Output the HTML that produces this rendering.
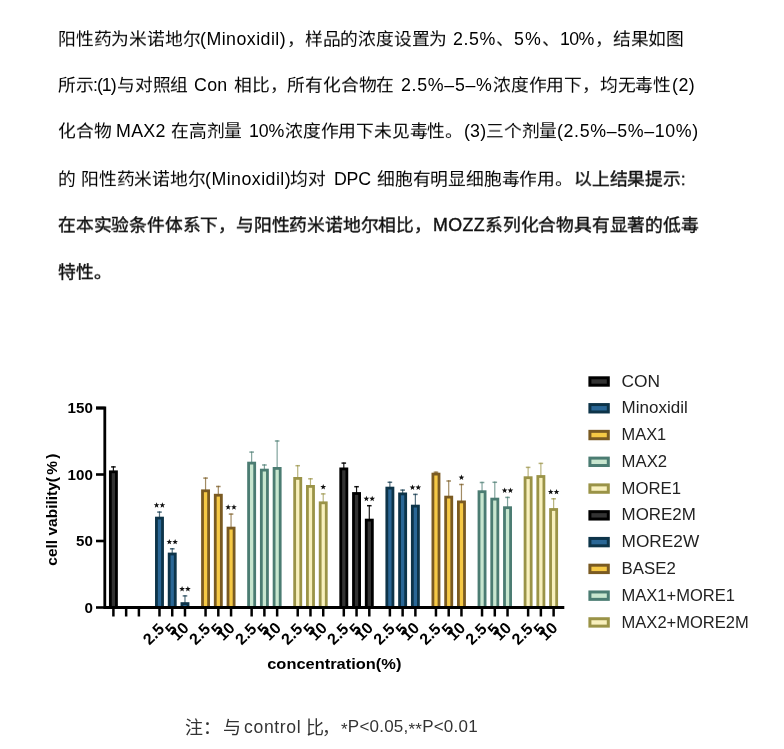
<!DOCTYPE html>
<html lang="zh-CN"><head><meta charset="utf-8"><style>
html,body{margin:0;padding:0;background:#fff;}
body{width:784px;height:749px;position:relative;overflow:hidden;font-family:"Liberation Sans",sans-serif;}
.ln{position:absolute;font-size:17.8px;line-height:20px;will-change:transform;color:#000;white-space:nowrap;}
.ln b,.bd{font-weight:normal;-webkit-text-stroke:0.4px #111;color:#111;}
svg{position:absolute;left:0;top:0;}
svg text{font-family:"Liberation Sans",sans-serif;}
.st{font-size:13px;font-weight:bold;text-anchor:middle;fill:#111;}
.xl{font-size:16px;font-weight:bold;text-anchor:end;fill:#000;}
.yl{font-size:14px;font-weight:bold;text-anchor:end;fill:#000;}
.ax{font-size:15.5px;font-weight:bold;fill:#000;}
.lg{font-size:15.6px;fill:#222;}
.cap{position:absolute;top:717.4px;font-size:17px;line-height:20px;color:#333;white-space:nowrap;will-change:transform;}
.sy{transform:scaleY(0.94);transform-origin:0 1px;letter-spacing:-0.2px;}
.as{font-size:17px;position:relative;top:3.2px;}
.cj{font-size:18px;top:717.9px;}
</style></head><body>
<div class="ln sy" style="left:57.8px;top:30.0px">阳性药为米诺地尔</div>
<div class="ln" style="left:200.2px;top:29.2px;letter-spacing:0.47px">(Minoxidil)</div>
<div class="ln sy" style="left:286.5px;top:30.0px">，样品的浓度设置为</div>
<div class="ln" style="left:453.3px;top:29.2px;letter-spacing:0.6px">2.5%</div>
<div class="ln sy" style="left:495.5px;top:30.0px">、</div>
<div class="ln" style="left:514.2px;top:29.2px;letter-spacing:1.0px">5%</div>
<div class="ln sy" style="left:542.2px;top:30.0px">、</div>
<div class="ln" style="left:559.6px;top:29.2px;letter-spacing:-0.65px">10%</div>
<div class="ln sy" style="left:594.9px;top:30.0px">，结果如图</div>
<div class="ln sy" style="left:57.8px;top:76.0px">所示</div>
<div class="ln" style="left:93.3px;top:75.2px;letter-spacing:-1.03px">:(1)</div>
<div class="ln sy" style="left:116.8px;top:76.0px">与对照组</div>
<div class="ln" style="left:194.1px;top:75.2px;letter-spacing:0.3px">Con</div>
<div class="ln sy" style="left:233.9px;top:76.0px">相比，所有化合物在</div>
<div class="ln" style="left:400.9px;top:75.2px;letter-spacing:0.7px">2.5%–5–%</div>
<div class="ln sy" style="left:493.1px;top:76.0px">浓度作用下，均无毒性</div>
<div class="ln" style="left:671.7px;top:75.2px;letter-spacing:0.5px">(2)</div>
<div class="ln sy" style="left:57.8px;top:122.2px">化合物</div>
<div class="ln" style="left:116.3px;top:121.4px;letter-spacing:0.33px">MAX2</div>
<div class="ln sy" style="left:171.4px;top:122.2px">在高剂量</div>
<div class="ln" style="left:249.2px;top:121.4px;letter-spacing:-0.15px">10%</div>
<div class="ln sy" style="left:284.9px;top:122.2px">浓度作用下未见毒性。</div>
<div class="ln" style="left:463.9px;top:121.4px;letter-spacing:0.2px">(3)</div>
<div class="ln sy" style="left:486.3px;top:122.2px">三个剂量</div>
<div class="ln" style="left:557.4px;top:121.4px;letter-spacing:0.65px">(2.5%–5%–10%)</div>
<div class="ln sy" style="left:57.8px;top:169.6px">的</div>
<div class="ln sy" style="left:81.2px;top:169.6px">阳性药米诺地尔</div>
<div class="ln" style="left:205.1px;top:168.8px;letter-spacing:0.47px">(Minoxidil)</div>
<div class="ln sy" style="left:289.8px;top:169.6px">均对</div>
<div class="ln" style="left:333.5px;top:168.8px;letter-spacing:-0.25px">DPC</div>
<div class="ln sy" style="left:377.2px;top:169.6px">细胞有明显细胞毒作用。</div>
<div class="ln sy" style="left:574.3px;top:169.6px"><b>以上结果提示:</b></div>
<div class="ln bd sy" style="left:57.8px;top:215.6px">在本实验条件体系下，与阳性药米诺地尔相比，</div>
<div class="ln bd" style="left:433.3px;top:214.8px;letter-spacing:0.4px">MOZZ</div>
<div class="ln bd sy" style="left:485.1px;top:215.6px">系列化合物具有显著的低毒</div>
<div class="ln bd sy" style="left:57.8px;top:263.0px">特性。</div>

<svg width="784" height="749" viewBox="0 0 784 749">
<line x1="113.40" y1="471.40" x2="113.40" y2="466.20" stroke="#000000" stroke-width="1.2" opacity="0.9"/>
<line x1="111.10" y1="466.90" x2="115.70" y2="466.90" stroke="#000000" stroke-width="1.5" opacity="0.9"/>
<line x1="159.48" y1="517.70" x2="159.48" y2="511.40" stroke="#0d3449" stroke-width="1.2" opacity="0.7"/>
<line x1="157.18" y1="512.10" x2="161.78" y2="512.10" stroke="#0d3449" stroke-width="1.5" opacity="0.7"/>
<line x1="172.23" y1="553.60" x2="172.23" y2="548.10" stroke="#0d3449" stroke-width="1.2" opacity="0.7"/>
<line x1="169.93" y1="548.80" x2="174.53" y2="548.80" stroke="#0d3449" stroke-width="1.5" opacity="0.7"/>
<line x1="184.98" y1="603.20" x2="184.98" y2="595.20" stroke="#0d3449" stroke-width="1.2" opacity="0.7"/>
<line x1="182.68" y1="595.90" x2="187.28" y2="595.90" stroke="#0d3449" stroke-width="1.5" opacity="0.7"/>
<line x1="205.56" y1="490.40" x2="205.56" y2="477.40" stroke="#7a5a22" stroke-width="1.2" opacity="0.7"/>
<line x1="203.26" y1="478.10" x2="207.86" y2="478.10" stroke="#7a5a22" stroke-width="1.5" opacity="0.7"/>
<line x1="218.31" y1="494.80" x2="218.31" y2="485.80" stroke="#7a5a22" stroke-width="1.2" opacity="0.7"/>
<line x1="216.01" y1="486.50" x2="220.61" y2="486.50" stroke="#7a5a22" stroke-width="1.5" opacity="0.7"/>
<line x1="231.06" y1="527.70" x2="231.06" y2="513.40" stroke="#7a5a22" stroke-width="1.2" opacity="0.7"/>
<line x1="228.76" y1="514.10" x2="233.36" y2="514.10" stroke="#7a5a22" stroke-width="1.5" opacity="0.7"/>
<line x1="251.64" y1="462.70" x2="251.64" y2="451.40" stroke="#4b7c72" stroke-width="1.2" opacity="0.7"/>
<line x1="249.34" y1="452.10" x2="253.94" y2="452.10" stroke="#4b7c72" stroke-width="1.5" opacity="0.7"/>
<line x1="264.39" y1="469.70" x2="264.39" y2="464.30" stroke="#4b7c72" stroke-width="1.2" opacity="0.7"/>
<line x1="262.09" y1="465.00" x2="266.69" y2="465.00" stroke="#4b7c72" stroke-width="1.5" opacity="0.7"/>
<line x1="277.14" y1="468.00" x2="277.14" y2="440.30" stroke="#4b7c72" stroke-width="1.2" opacity="0.7"/>
<line x1="274.84" y1="441.00" x2="279.44" y2="441.00" stroke="#4b7c72" stroke-width="1.5" opacity="0.7"/>
<line x1="297.72" y1="478.00" x2="297.72" y2="465.00" stroke="#9a9347" stroke-width="1.2" opacity="0.7"/>
<line x1="295.42" y1="465.70" x2="300.02" y2="465.70" stroke="#9a9347" stroke-width="1.5" opacity="0.7"/>
<line x1="310.47" y1="486.00" x2="310.47" y2="478.10" stroke="#9a9347" stroke-width="1.2" opacity="0.7"/>
<line x1="308.17" y1="478.80" x2="312.77" y2="478.80" stroke="#9a9347" stroke-width="1.5" opacity="0.7"/>
<line x1="323.22" y1="502.40" x2="323.22" y2="493.20" stroke="#9a9347" stroke-width="1.2" opacity="0.7"/>
<line x1="320.92" y1="493.90" x2="325.52" y2="493.90" stroke="#9a9347" stroke-width="1.5" opacity="0.7"/>
<line x1="343.80" y1="468.50" x2="343.80" y2="462.40" stroke="#000000" stroke-width="1.2" opacity="0.9"/>
<line x1="341.50" y1="463.10" x2="346.10" y2="463.10" stroke="#000000" stroke-width="1.5" opacity="0.9"/>
<line x1="356.55" y1="493.10" x2="356.55" y2="486.00" stroke="#000000" stroke-width="1.2" opacity="0.9"/>
<line x1="354.25" y1="486.70" x2="358.85" y2="486.70" stroke="#000000" stroke-width="1.5" opacity="0.9"/>
<line x1="369.30" y1="519.70" x2="369.30" y2="505.00" stroke="#000000" stroke-width="1.2" opacity="0.9"/>
<line x1="367.00" y1="505.70" x2="371.60" y2="505.70" stroke="#000000" stroke-width="1.5" opacity="0.9"/>
<line x1="389.88" y1="487.70" x2="389.88" y2="481.60" stroke="#0d3449" stroke-width="1.2" opacity="0.7"/>
<line x1="387.58" y1="482.30" x2="392.18" y2="482.30" stroke="#0d3449" stroke-width="1.5" opacity="0.7"/>
<line x1="402.63" y1="493.50" x2="402.63" y2="489.40" stroke="#0d3449" stroke-width="1.2" opacity="0.7"/>
<line x1="400.33" y1="490.10" x2="404.93" y2="490.10" stroke="#0d3449" stroke-width="1.5" opacity="0.7"/>
<line x1="415.38" y1="505.70" x2="415.38" y2="493.70" stroke="#0d3449" stroke-width="1.2" opacity="0.7"/>
<line x1="413.08" y1="494.40" x2="417.68" y2="494.40" stroke="#0d3449" stroke-width="1.5" opacity="0.7"/>
<line x1="435.96" y1="473.70" x2="435.96" y2="471.50" stroke="#7a5a22" stroke-width="1.2" opacity="0.7"/>
<line x1="433.66" y1="472.20" x2="438.26" y2="472.20" stroke="#7a5a22" stroke-width="1.5" opacity="0.7"/>
<line x1="448.71" y1="496.70" x2="448.71" y2="480.30" stroke="#7a5a22" stroke-width="1.2" opacity="0.7"/>
<line x1="446.41" y1="481.00" x2="451.01" y2="481.00" stroke="#7a5a22" stroke-width="1.5" opacity="0.7"/>
<line x1="461.46" y1="501.50" x2="461.46" y2="483.80" stroke="#7a5a22" stroke-width="1.2" opacity="0.7"/>
<line x1="459.16" y1="484.50" x2="463.76" y2="484.50" stroke="#7a5a22" stroke-width="1.5" opacity="0.7"/>
<line x1="482.04" y1="491.30" x2="482.04" y2="481.80" stroke="#4b7c72" stroke-width="1.2" opacity="0.7"/>
<line x1="479.74" y1="482.50" x2="484.34" y2="482.50" stroke="#4b7c72" stroke-width="1.5" opacity="0.7"/>
<line x1="494.79" y1="498.70" x2="494.79" y2="481.60" stroke="#4b7c72" stroke-width="1.2" opacity="0.7"/>
<line x1="492.49" y1="482.30" x2="497.09" y2="482.30" stroke="#4b7c72" stroke-width="1.5" opacity="0.7"/>
<line x1="507.54" y1="507.30" x2="507.54" y2="496.70" stroke="#4b7c72" stroke-width="1.2" opacity="0.7"/>
<line x1="505.24" y1="497.40" x2="509.84" y2="497.40" stroke="#4b7c72" stroke-width="1.5" opacity="0.7"/>
<line x1="528.12" y1="477.30" x2="528.12" y2="466.70" stroke="#9a9347" stroke-width="1.2" opacity="0.7"/>
<line x1="525.82" y1="467.40" x2="530.42" y2="467.40" stroke="#9a9347" stroke-width="1.5" opacity="0.7"/>
<line x1="540.87" y1="476.10" x2="540.87" y2="462.70" stroke="#9a9347" stroke-width="1.2" opacity="0.7"/>
<line x1="538.57" y1="463.40" x2="543.17" y2="463.40" stroke="#9a9347" stroke-width="1.5" opacity="0.7"/>
<line x1="553.62" y1="509.10" x2="553.62" y2="498.10" stroke="#9a9347" stroke-width="1.2" opacity="0.7"/>
<line x1="551.32" y1="498.80" x2="555.92" y2="498.80" stroke="#9a9347" stroke-width="1.5" opacity="0.7"/>
<rect x="110.35" y="471.80" width="6.10" height="135.70" fill="#333333" stroke="#000000" stroke-width="2.8"/>
<rect x="156.43" y="518.10" width="6.10" height="89.40" fill="#2a6796" stroke="#0d3449" stroke-width="2.8"/>
<rect x="169.18" y="554.00" width="6.10" height="53.50" fill="#2a6796" stroke="#0d3449" stroke-width="2.8"/>
<rect x="181.93" y="603.60" width="6.10" height="3.90" fill="#2a6796" stroke="#0d3449" stroke-width="2.8"/>
<rect x="202.51" y="490.80" width="6.10" height="116.70" fill="#f6c945" stroke="#7a5a22" stroke-width="2.8"/>
<rect x="215.26" y="495.20" width="6.10" height="112.30" fill="#f6c945" stroke="#7a5a22" stroke-width="2.8"/>
<rect x="228.01" y="528.10" width="6.10" height="79.40" fill="#f6c945" stroke="#7a5a22" stroke-width="2.8"/>
<rect x="248.59" y="463.10" width="6.10" height="144.40" fill="#c8e6cf" stroke="#4b7c72" stroke-width="2.8"/>
<rect x="261.34" y="470.10" width="6.10" height="137.40" fill="#c8e6cf" stroke="#4b7c72" stroke-width="2.8"/>
<rect x="274.09" y="468.40" width="6.10" height="139.10" fill="#c8e6cf" stroke="#4b7c72" stroke-width="2.8"/>
<rect x="294.67" y="478.40" width="6.10" height="129.10" fill="#f8f0bd" stroke="#9a9347" stroke-width="2.8"/>
<rect x="307.42" y="486.40" width="6.10" height="121.10" fill="#f8f0bd" stroke="#9a9347" stroke-width="2.8"/>
<rect x="320.17" y="502.80" width="6.10" height="104.70" fill="#f8f0bd" stroke="#9a9347" stroke-width="2.8"/>
<rect x="340.75" y="468.90" width="6.10" height="138.60" fill="#333333" stroke="#000000" stroke-width="2.8"/>
<rect x="353.50" y="493.50" width="6.10" height="114.00" fill="#333333" stroke="#000000" stroke-width="2.8"/>
<rect x="366.25" y="520.10" width="6.10" height="87.40" fill="#333333" stroke="#000000" stroke-width="2.8"/>
<rect x="386.83" y="488.10" width="6.10" height="119.40" fill="#2a6796" stroke="#0d3449" stroke-width="2.8"/>
<rect x="399.58" y="493.90" width="6.10" height="113.60" fill="#2a6796" stroke="#0d3449" stroke-width="2.8"/>
<rect x="412.33" y="506.10" width="6.10" height="101.40" fill="#2a6796" stroke="#0d3449" stroke-width="2.8"/>
<rect x="432.91" y="474.10" width="6.10" height="133.40" fill="#f6c945" stroke="#7a5a22" stroke-width="2.8"/>
<rect x="445.66" y="497.10" width="6.10" height="110.40" fill="#f6c945" stroke="#7a5a22" stroke-width="2.8"/>
<rect x="458.41" y="501.90" width="6.10" height="105.60" fill="#f6c945" stroke="#7a5a22" stroke-width="2.8"/>
<rect x="478.99" y="491.70" width="6.10" height="115.80" fill="#c8e6cf" stroke="#4b7c72" stroke-width="2.8"/>
<rect x="491.74" y="499.10" width="6.10" height="108.40" fill="#c8e6cf" stroke="#4b7c72" stroke-width="2.8"/>
<rect x="504.49" y="507.70" width="6.10" height="99.80" fill="#c8e6cf" stroke="#4b7c72" stroke-width="2.8"/>
<rect x="525.07" y="477.70" width="6.10" height="129.80" fill="#f8f0bd" stroke="#9a9347" stroke-width="2.8"/>
<rect x="537.82" y="476.50" width="6.10" height="131.00" fill="#f8f0bd" stroke="#9a9347" stroke-width="2.8"/>
<rect x="550.57" y="509.50" width="6.10" height="98.00" fill="#f8f0bd" stroke="#9a9347" stroke-width="2.8"/>
<line x1="113.40" y1="607.50" x2="113.40" y2="616.5" stroke="#000" stroke-width="2.5"/>
<line x1="126.15" y1="607.50" x2="126.15" y2="616.5" stroke="#000" stroke-width="2.5"/>
<line x1="138.90" y1="607.50" x2="138.90" y2="616.5" stroke="#000" stroke-width="2.5"/>
<line x1="159.48" y1="607.50" x2="159.48" y2="616.5" stroke="#000" stroke-width="2.5"/>
<line x1="172.23" y1="607.50" x2="172.23" y2="616.5" stroke="#000" stroke-width="2.5"/>
<line x1="184.98" y1="607.50" x2="184.98" y2="616.5" stroke="#000" stroke-width="2.5"/>
<line x1="205.56" y1="607.50" x2="205.56" y2="616.5" stroke="#000" stroke-width="2.5"/>
<line x1="218.31" y1="607.50" x2="218.31" y2="616.5" stroke="#000" stroke-width="2.5"/>
<line x1="231.06" y1="607.50" x2="231.06" y2="616.5" stroke="#000" stroke-width="2.5"/>
<line x1="251.64" y1="607.50" x2="251.64" y2="616.5" stroke="#000" stroke-width="2.5"/>
<line x1="264.39" y1="607.50" x2="264.39" y2="616.5" stroke="#000" stroke-width="2.5"/>
<line x1="277.14" y1="607.50" x2="277.14" y2="616.5" stroke="#000" stroke-width="2.5"/>
<line x1="297.72" y1="607.50" x2="297.72" y2="616.5" stroke="#000" stroke-width="2.5"/>
<line x1="310.47" y1="607.50" x2="310.47" y2="616.5" stroke="#000" stroke-width="2.5"/>
<line x1="323.22" y1="607.50" x2="323.22" y2="616.5" stroke="#000" stroke-width="2.5"/>
<line x1="343.80" y1="607.50" x2="343.80" y2="616.5" stroke="#000" stroke-width="2.5"/>
<line x1="356.55" y1="607.50" x2="356.55" y2="616.5" stroke="#000" stroke-width="2.5"/>
<line x1="369.30" y1="607.50" x2="369.30" y2="616.5" stroke="#000" stroke-width="2.5"/>
<line x1="389.88" y1="607.50" x2="389.88" y2="616.5" stroke="#000" stroke-width="2.5"/>
<line x1="402.63" y1="607.50" x2="402.63" y2="616.5" stroke="#000" stroke-width="2.5"/>
<line x1="415.38" y1="607.50" x2="415.38" y2="616.5" stroke="#000" stroke-width="2.5"/>
<line x1="435.96" y1="607.50" x2="435.96" y2="616.5" stroke="#000" stroke-width="2.5"/>
<line x1="448.71" y1="607.50" x2="448.71" y2="616.5" stroke="#000" stroke-width="2.5"/>
<line x1="461.46" y1="607.50" x2="461.46" y2="616.5" stroke="#000" stroke-width="2.5"/>
<line x1="482.04" y1="607.50" x2="482.04" y2="616.5" stroke="#000" stroke-width="2.5"/>
<line x1="494.79" y1="607.50" x2="494.79" y2="616.5" stroke="#000" stroke-width="2.5"/>
<line x1="507.54" y1="607.50" x2="507.54" y2="616.5" stroke="#000" stroke-width="2.5"/>
<line x1="528.12" y1="607.50" x2="528.12" y2="616.5" stroke="#000" stroke-width="2.5"/>
<line x1="540.87" y1="607.50" x2="540.87" y2="616.5" stroke="#000" stroke-width="2.5"/>
<line x1="553.62" y1="607.50" x2="553.62" y2="616.5" stroke="#000" stroke-width="2.5"/>
<polygon points="156.58,502.20 157.32,504.18 159.43,504.27 157.78,505.59 158.34,507.63 156.58,506.46 154.82,507.63 155.38,505.59 153.73,504.27 155.84,504.18" fill="#111"/>
<polygon points="162.38,502.20 163.12,504.18 165.23,504.27 163.58,505.59 164.14,507.63 162.38,506.46 160.62,507.63 161.18,505.59 159.53,504.27 161.64,504.18" fill="#111"/>
<polygon points="169.33,538.90 170.07,540.88 172.18,540.97 170.53,542.29 171.09,544.33 169.33,543.16 167.57,544.33 168.13,542.29 166.48,540.97 168.59,540.88" fill="#111"/>
<polygon points="175.13,538.90 175.87,540.88 177.98,540.97 176.33,542.29 176.89,544.33 175.13,543.16 173.37,544.33 173.93,542.29 172.28,540.97 174.39,540.88" fill="#111"/>
<polygon points="182.08,586.00 182.82,587.98 184.93,588.07 183.28,589.39 183.84,591.43 182.08,590.26 180.32,591.43 180.88,589.39 179.23,588.07 181.34,587.98" fill="#111"/>
<polygon points="187.88,586.00 188.62,587.98 190.73,588.07 189.08,589.39 189.64,591.43 187.88,590.26 186.12,591.43 186.68,589.39 185.03,588.07 187.14,587.98" fill="#111"/>
<polygon points="228.16,504.20 228.90,506.18 231.01,506.27 229.36,507.59 229.92,509.63 228.16,508.46 226.40,509.63 226.96,507.59 225.31,506.27 227.42,506.18" fill="#111"/>
<polygon points="233.96,504.20 234.70,506.18 236.81,506.27 235.16,507.59 235.72,509.63 233.96,508.46 232.20,509.63 232.76,507.59 231.11,506.27 233.22,506.18" fill="#111"/>
<polygon points="323.22,484.00 323.96,485.98 326.07,486.07 324.42,487.39 324.98,489.43 323.22,488.26 321.46,489.43 322.02,487.39 320.37,486.07 322.48,485.98" fill="#111"/>
<polygon points="366.40,495.80 367.14,497.78 369.25,497.87 367.60,499.19 368.16,501.23 366.40,500.06 364.64,501.23 365.20,499.19 363.55,497.87 365.66,497.78" fill="#111"/>
<polygon points="372.20,495.80 372.94,497.78 375.05,497.87 373.40,499.19 373.96,501.23 372.20,500.06 370.44,501.23 371.00,499.19 369.35,497.87 371.46,497.78" fill="#111"/>
<polygon points="412.48,484.50 413.22,486.48 415.33,486.57 413.68,487.89 414.24,489.93 412.48,488.76 410.72,489.93 411.28,487.89 409.63,486.57 411.74,486.48" fill="#111"/>
<polygon points="418.28,484.50 419.02,486.48 421.13,486.57 419.48,487.89 420.04,489.93 418.28,488.76 416.52,489.93 417.08,487.89 415.43,486.57 417.54,486.48" fill="#111"/>
<polygon points="461.46,474.60 462.20,476.58 464.31,476.67 462.66,477.99 463.22,480.03 461.46,478.86 459.70,480.03 460.26,477.99 458.61,476.67 460.72,476.58" fill="#111"/>
<polygon points="504.64,487.50 505.38,489.48 507.49,489.57 505.84,490.89 506.40,492.93 504.64,491.76 502.88,492.93 503.44,490.89 501.79,489.57 503.90,489.48" fill="#111"/>
<polygon points="510.44,487.50 511.18,489.48 513.29,489.57 511.64,490.89 512.20,492.93 510.44,491.76 508.68,492.93 509.24,490.89 507.59,489.57 509.70,489.48" fill="#111"/>
<polygon points="550.72,488.90 551.46,490.88 553.57,490.97 551.92,492.29 552.48,494.33 550.72,493.16 548.96,494.33 549.52,492.29 547.87,490.97 549.98,490.88" fill="#111"/>
<polygon points="556.52,488.90 557.26,490.88 559.37,490.97 557.72,492.29 558.28,494.33 556.52,493.16 554.76,494.33 555.32,492.29 553.67,490.97 555.78,490.88" fill="#111"/>
<text class="xl" transform="translate(165.28,630) rotate(-45)">2.5</text>
<text class="xl" transform="translate(178.03,630) rotate(-45)">5</text>
<text class="xl" transform="translate(189.78,629.0) rotate(-45)">10</text>
<text class="xl" transform="translate(211.36,630) rotate(-45)">2.5</text>
<text class="xl" transform="translate(224.11,630) rotate(-45)">5</text>
<text class="xl" transform="translate(235.86,629.0) rotate(-45)">10</text>
<text class="xl" transform="translate(257.44,630) rotate(-45)">2.5</text>
<text class="xl" transform="translate(270.19,630) rotate(-45)">5</text>
<text class="xl" transform="translate(281.94,629.0) rotate(-45)">10</text>
<text class="xl" transform="translate(303.52,630) rotate(-45)">2.5</text>
<text class="xl" transform="translate(316.27,630) rotate(-45)">5</text>
<text class="xl" transform="translate(328.02,629.0) rotate(-45)">10</text>
<text class="xl" transform="translate(349.60,630) rotate(-45)">2.5</text>
<text class="xl" transform="translate(362.35,630) rotate(-45)">5</text>
<text class="xl" transform="translate(374.10,629.0) rotate(-45)">10</text>
<text class="xl" transform="translate(395.68,630) rotate(-45)">2.5</text>
<text class="xl" transform="translate(408.43,630) rotate(-45)">5</text>
<text class="xl" transform="translate(420.18,629.0) rotate(-45)">10</text>
<text class="xl" transform="translate(441.76,630) rotate(-45)">2.5</text>
<text class="xl" transform="translate(454.51,630) rotate(-45)">5</text>
<text class="xl" transform="translate(466.26,629.0) rotate(-45)">10</text>
<text class="xl" transform="translate(487.84,630) rotate(-45)">2.5</text>
<text class="xl" transform="translate(500.59,630) rotate(-45)">5</text>
<text class="xl" transform="translate(512.34,629.0) rotate(-45)">10</text>
<text class="xl" transform="translate(533.92,630) rotate(-45)">2.5</text>
<text class="xl" transform="translate(546.67,630) rotate(-45)">5</text>
<text class="xl" transform="translate(558.42,629.0) rotate(-45)">10</text>
<path d="M96,408 H104.8 V607.5 H564.3" fill="none" stroke="#000" stroke-width="2.8"/>
<line x1="96" y1="408" x2="104.8" y2="408" stroke="#000" stroke-width="2.6"/>
<text class="yl" transform="translate(92.8,413.1) scale(1.08,1)">150</text>
<line x1="96" y1="474.5" x2="104.8" y2="474.5" stroke="#000" stroke-width="2.6"/>
<text class="yl" transform="translate(92.8,479.6) scale(1.08,1)">100</text>
<line x1="96" y1="541" x2="104.8" y2="541" stroke="#000" stroke-width="2.6"/>
<text class="yl" transform="translate(92.8,546.1) scale(1.08,1)">50</text>
<line x1="96" y1="607.5" x2="104.8" y2="607.5" stroke="#000" stroke-width="2.6"/>
<text class="yl" transform="translate(92.8,612.6) scale(1.08,1)">0</text>
<text class="ax" transform="translate(57,508.6) rotate(-90)" text-anchor="middle">cell vability<tspan letter-spacing="2.2">(%)</tspan></text>
<text class="ax" transform="translate(334.3,669) scale(1.06,1)" text-anchor="middle">concentration(%)</text>
<rect x="589.9" y="377.80" width="18.4" height="7.4" fill="#333333" stroke="#000000" stroke-width="3"/>
<text class="lg" x="621.6" y="386.60" textLength="38.5" lengthAdjust="spacingAndGlyphs">CON</text>
<rect x="589.9" y="404.57" width="18.4" height="7.4" fill="#2a6796" stroke="#0d3449" stroke-width="3"/>
<text class="lg" x="621.6" y="413.37" textLength="66.1" lengthAdjust="spacingAndGlyphs">Minoxidil</text>
<rect x="589.9" y="431.34" width="18.4" height="7.4" fill="#f6c945" stroke="#7a5a22" stroke-width="3"/>
<text class="lg" x="621.6" y="440.14" textLength="44.6" lengthAdjust="spacingAndGlyphs">MAX1</text>
<rect x="589.9" y="458.11" width="18.4" height="7.4" fill="#c8e6cf" stroke="#4b7c72" stroke-width="3"/>
<text class="lg" x="621.6" y="466.91" textLength="45.5" lengthAdjust="spacingAndGlyphs">MAX2</text>
<rect x="589.9" y="484.88" width="18.4" height="7.4" fill="#f8f0bd" stroke="#9a9347" stroke-width="3"/>
<text class="lg" x="621.6" y="493.68" textLength="59.5" lengthAdjust="spacingAndGlyphs">MORE1</text>
<rect x="589.9" y="511.65" width="18.4" height="7.4" fill="#333333" stroke="#000000" stroke-width="3"/>
<text class="lg" x="621.6" y="520.45" textLength="74.2" lengthAdjust="spacingAndGlyphs">MORE2M</text>
<rect x="589.9" y="538.42" width="18.4" height="7.4" fill="#2a6796" stroke="#0d3449" stroke-width="3"/>
<text class="lg" x="621.6" y="547.22" textLength="77.6" lengthAdjust="spacingAndGlyphs">MORE2W</text>
<rect x="589.9" y="565.19" width="18.4" height="7.4" fill="#f6c945" stroke="#7a5a22" stroke-width="3"/>
<text class="lg" x="621.6" y="573.99" textLength="54.3" lengthAdjust="spacingAndGlyphs">BASE2</text>
<rect x="589.9" y="591.96" width="18.4" height="7.4" fill="#c8e6cf" stroke="#4b7c72" stroke-width="3"/>
<text class="lg" x="621.6" y="600.76" textLength="113.3" lengthAdjust="spacingAndGlyphs">MAX1+MORE1</text>
<rect x="589.9" y="618.73" width="18.4" height="7.4" fill="#f8f0bd" stroke="#9a9347" stroke-width="3"/>
<text class="lg" x="621.6" y="627.53" textLength="127.1" lengthAdjust="spacingAndGlyphs">MAX2+MORE2M</text>
</svg>
<div class="cap cj" style="left:185.2px">注</div>
<div class="cap cj" style="left:203.3px">：</div>
<div class="cap cj" style="left:222.5px">与</div>
<div class="cap" style="left:244.3px;letter-spacing:0.65px;font-size:17.6px;top:716.9px">control</div>
<div class="cap cj" style="left:305.7px">比</div>
<div class="cap cj" style="left:322.2px">，</div>
<div class="cap" style="left:340.6px;letter-spacing:0.22px"><span class="as">*</span>P&lt;0.05,<span class="as">**</span>P&lt;0.01</div>
</body></html>
